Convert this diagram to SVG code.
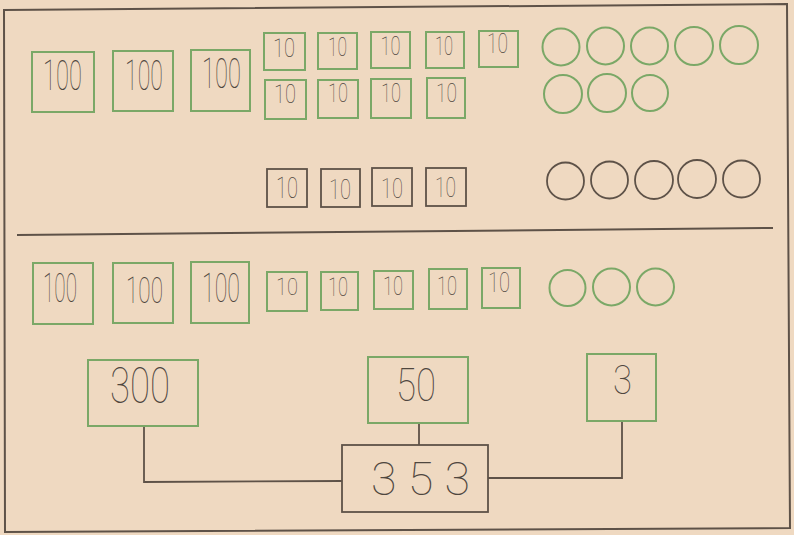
<svg xmlns="http://www.w3.org/2000/svg" width="794" height="535" viewBox="0 0 794 535">
<style>
.bg{fill:#efd9c1}
.frame{fill:none;stroke:#5e5248;stroke-width:2}
.g{fill:none;stroke:#7ba867;stroke-width:2}
.k{fill:none;stroke:#5e5248;stroke-width:1.8}
.gc{fill:none;stroke:#7ba867;stroke-width:2}
.kc{fill:none;stroke:#5e5248;stroke-width:1.8}
.t{font-family:Roboto,"Liberation Sans",sans-serif;font-weight:100;fill:#4f473f;text-anchor:middle}
.ln{fill:none;stroke:#5e5248;stroke-width:1.8}
</style>
<rect class="bg" x="0" y="0" width="794" height="535"/>
<path class="frame" d="M4,10 L787,4 L790,528 L5,532 Z"/>
<line class="frame" x1="17" y1="235" x2="773" y2="228"/>

<g id="top-hundreds">
  <g id="t100a"><rect class="g" x="32" y="52" width="62" height="60"/><text class="t" x="62.5" y="90" font-size="42" textLength="39" lengthAdjust="spacingAndGlyphs">100</text></g>
  <g id="t100b"><rect class="g" x="113" y="51" width="60" height="60"/><text class="t" x="144" y="90" font-size="42" textLength="38" lengthAdjust="spacingAndGlyphs">100</text></g>
  <g id="t100c"><rect class="g" x="191" y="50" width="59" height="61"/><text class="t" x="221.5" y="88" font-size="42" textLength="39" lengthAdjust="spacingAndGlyphs">100</text></g>
</g>

<g id="top-tens-row1">
  <g id="t10a"><rect class="g" x="264" y="33" width="41" height="37"/><text class="t" x="284" y="57" font-size="25" textLength="22" lengthAdjust="spacingAndGlyphs">10</text></g>
  <g id="t10b"><rect class="g" x="318" y="33" width="39" height="36"/><text class="t" x="337.5" y="56" font-size="25" textLength="19" lengthAdjust="spacingAndGlyphs">10</text></g>
  <g id="t10c"><rect class="g" x="371" y="32" width="39" height="36"/><text class="t" x="390.5" y="55" font-size="25" textLength="20" lengthAdjust="spacingAndGlyphs">10</text></g>
  <g id="t10d"><rect class="g" x="426" y="32" width="38" height="36"/><text class="t" x="444" y="55" font-size="25" textLength="18" lengthAdjust="spacingAndGlyphs">10</text></g>
  <g id="t10e"><rect class="g" x="479" y="31" width="39" height="36"/><text class="t" x="497.5" y="53" font-size="27" textLength="21" lengthAdjust="spacingAndGlyphs">10</text></g>
</g>

<g id="top-tens-row2">
  <g id="t10f"><rect class="g" x="265" y="80" width="41" height="39"/><text class="t" x="285" y="103" font-size="25" textLength="22" lengthAdjust="spacingAndGlyphs">10</text></g>
  <g id="t10g"><rect class="g" x="318" y="80" width="40" height="38"/><text class="t" x="338" y="102" font-size="25" textLength="20" lengthAdjust="spacingAndGlyphs">10</text></g>
  <g id="t10h"><rect class="g" x="371" y="79" width="40" height="39"/><text class="t" x="391" y="102" font-size="25" textLength="20" lengthAdjust="spacingAndGlyphs">10</text></g>
  <g id="t10i"><rect class="g" x="427" y="78" width="38" height="40"/><text class="t" x="446.5" y="102" font-size="26" textLength="21" lengthAdjust="spacingAndGlyphs">10</text></g>
</g>

<g id="top-ones">
  <circle class="gc" cx="561" cy="47" r="18.5"/>
  <circle class="gc" cx="605.5" cy="46" r="18.5"/>
  <circle class="gc" cx="649.5" cy="46" r="18.5"/>
  <circle class="gc" cx="694" cy="46" r="19"/>
  <circle class="gc" cx="739" cy="45" r="19"/>
  <circle class="gc" cx="563" cy="94" r="19"/>
  <circle class="gc" cx="607" cy="93" r="19"/>
  <circle class="gc" cx="650" cy="93" r="18"/>
</g>

<g id="borrowed-tens">
  <g id="b10a"><rect class="k" x="267" y="169" width="40" height="38"/><text class="t" x="287" y="198" font-size="29" textLength="22" lengthAdjust="spacingAndGlyphs">10</text></g>
  <g id="b10b"><rect class="k" x="321" y="169" width="39" height="38"/><text class="t" x="340" y="199" font-size="27" textLength="22" lengthAdjust="spacingAndGlyphs">10</text></g>
  <g id="b10c"><rect class="k" x="372" y="168" width="40" height="38"/><text class="t" x="392" y="198" font-size="28" textLength="22" lengthAdjust="spacingAndGlyphs">10</text></g>
  <g id="b10d"><rect class="k" x="426" y="168" width="40" height="38"/><text class="t" x="445.5" y="197" font-size="27" textLength="21" lengthAdjust="spacingAndGlyphs">10</text></g>
</g>

<g id="borrowed-ones">
  <circle class="kc" cx="565.5" cy="181" r="18.5"/>
  <circle class="kc" cx="609.5" cy="180" r="18.5"/>
  <circle class="kc" cx="654" cy="180" r="19"/>
  <circle class="kc" cx="697" cy="179" r="19"/>
  <circle class="kc" cx="741.5" cy="179" r="18.5"/>
</g>

<g id="bottom-hundreds">
  <g id="h100a"><rect class="g" x="33" y="263" width="60" height="61"/><text class="t" x="60" y="302" font-size="41" textLength="34" lengthAdjust="spacingAndGlyphs">100</text></g>
  <g id="h100b"><rect class="g" x="113" y="263" width="60" height="60"/><text class="t" x="144.5" y="303" font-size="37" textLength="37" lengthAdjust="spacingAndGlyphs">100</text></g>
  <g id="h100c"><rect class="g" x="191" y="262" width="58" height="61"/><text class="t" x="221" y="302" font-size="41" textLength="38" lengthAdjust="spacingAndGlyphs">100</text></g>
</g>

<g id="bottom-tens">
  <g id="h10a"><rect class="g" x="267" y="272" width="40" height="39"/><text class="t" x="287" y="295" font-size="24" textLength="22" lengthAdjust="spacingAndGlyphs">10</text></g>
  <g id="h10b"><rect class="g" x="321" y="272" width="37" height="38"/><text class="t" x="338" y="296" font-size="25" textLength="20" lengthAdjust="spacingAndGlyphs">10</text></g>
  <g id="h10c"><rect class="g" x="374" y="271" width="39" height="38"/><text class="t" x="393" y="295" font-size="25" textLength="20" lengthAdjust="spacingAndGlyphs">10</text></g>
  <g id="h10d"><rect class="g" x="429" y="269" width="38" height="40"/><text class="t" x="447" y="295" font-size="25" textLength="20" lengthAdjust="spacingAndGlyphs">10</text></g>
  <g id="h10e"><rect class="g" x="482" y="268" width="38" height="40"/><text class="t" x="499" y="292" font-size="28" textLength="22" lengthAdjust="spacingAndGlyphs">10</text></g>
</g>

<g id="bottom-ones">
  <circle class="gc" cx="567.5" cy="288" r="18"/>
  <circle class="gc" cx="611.5" cy="287" r="18.5"/>
  <circle class="gc" cx="655.5" cy="287" r="18.5"/>
</g>

<g id="connectors">
  <polyline class="ln" points="144,426 144,482 342,481"/>
  <line class="ln" x1="419" y1="423" x2="419" y2="445"/>
  <polyline class="ln" points="622,421 622,478 488,478"/>
</g>

<g id="n300"><rect class="g" x="88" y="360" width="110" height="66"/><text class="t" x="140" y="403" font-size="50" textLength="60" lengthAdjust="spacingAndGlyphs">300</text></g>
<g id="n50"><rect class="g" x="368" y="357" width="100" height="66"/><text class="t" x="416" y="401" font-size="47" textLength="40" lengthAdjust="spacingAndGlyphs">50</text></g>
<g id="n3"><rect class="g" x="587" y="354" width="69" height="67"/><text class="t" x="622.5" y="394" font-size="41" textLength="19" lengthAdjust="spacingAndGlyphs">3</text></g>
<g id="n353"><rect class="k" x="342" y="445" width="146" height="67"/><text class="t" x="420.5" y="495" font-size="46" textLength="99" lengthAdjust="spacingAndGlyphs">3 5 3</text></g>
</svg>
